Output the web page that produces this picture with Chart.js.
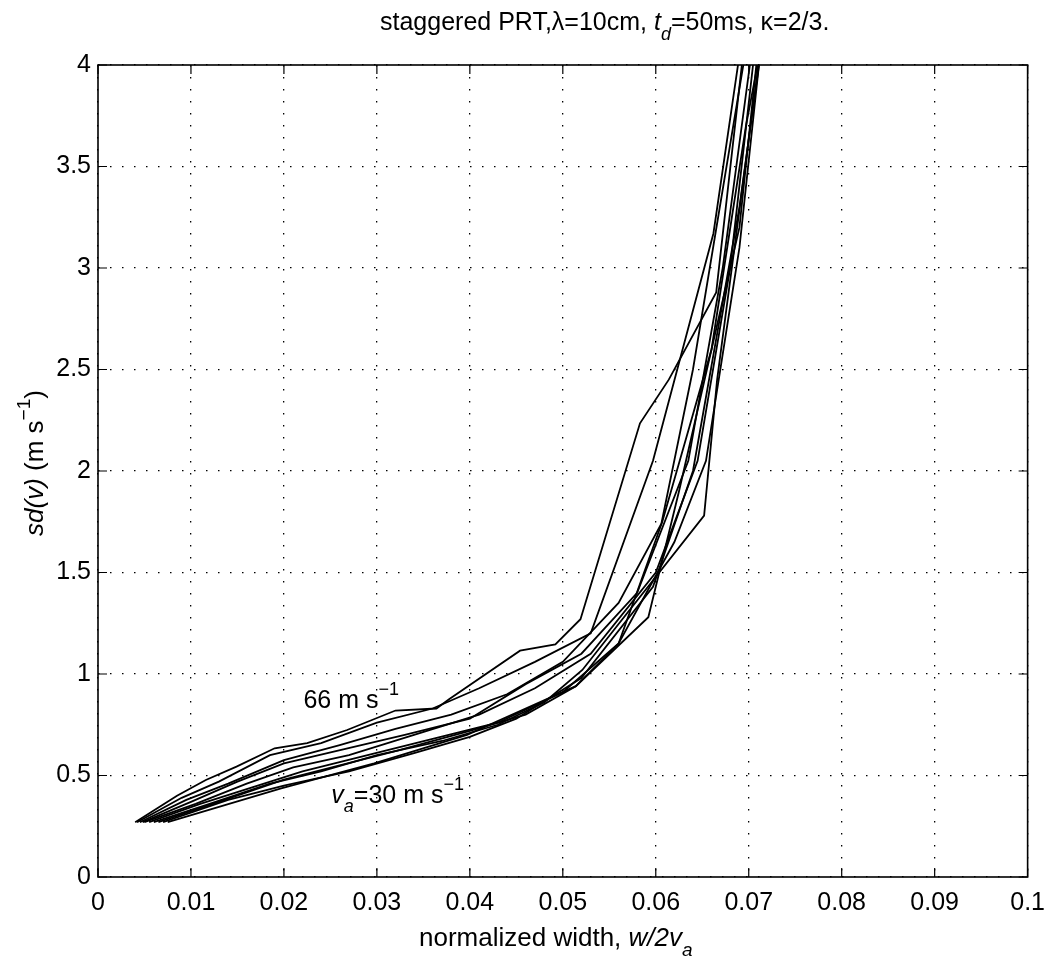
<!DOCTYPE html>
<html>
<head>
<meta charset="utf-8">
<script src="https://cdn.jsdelivr.net/npm/chart.js@4.4.1/dist/chart.umd.min.js"></script>
<style>
html, body { margin: 0; padding: 0; background: #fff; }
#wrap { width: 1056px; height: 962px; }
</style>
</head>
<body>
<div id="wrap"><canvas id="myChart"></canvas></div>
<script>
// sd(v) against normalized width, one curve per unambiguous velocity v_a (m/s)
const w66  = [0.0040, 0.0085, 0.0116, 0.0149, 0.0190, 0.0225, 0.0268, 0.0320, 0.0364, 0.0378, 0.0454, 0.0492, 0.0519, 0.0583, 0.0614, 0.0665, 0.0700];
const sd66 = [0.27, 0.40, 0.478, 0.544, 0.634, 0.66, 0.724, 0.82, 0.83, 0.877, 1.115, 1.146, 1.27, 2.235, 2.45, 2.88, 4.3];

const w62  = [0.0042, 0.0090, 0.0130, 0.0185, 0.0240, 0.0300, 0.0360, 0.0410, 0.0470, 0.0530, 0.0597, 0.0662, 0.0698];
const sd62 = [0.27, 0.39, 0.47, 0.60, 0.66, 0.76, 0.83, 0.93, 1.06, 1.20, 2.05, 3.17, 4.3];

const w58  = [0.0045, 0.0095, 0.0140, 0.0200, 0.0260, 0.0320, 0.0380, 0.0440, 0.0500, 0.0560, 0.0606, 0.0640, 0.0705];
const sd58 = [0.27, 0.38, 0.46, 0.576, 0.65, 0.73, 0.80, 0.90, 1.06, 1.35, 1.74, 2.5, 4.3];

const w54  = [0.0048, 0.0100, 0.0150, 0.0200, 0.0265, 0.0330, 0.0400, 0.0460, 0.0520, 0.0580, 0.0635, 0.0672, 0.0710];
const sd54 = [0.27, 0.37, 0.47, 0.56, 0.63, 0.70, 0.78, 0.95, 1.10, 1.40, 2.05, 3.0, 4.3];

const w50  = [0.0050, 0.0105, 0.0160, 0.0210, 0.0270, 0.0340, 0.0410, 0.0470, 0.0530, 0.0600, 0.0645, 0.0680, 0.0712];
const sd50 = [0.27, 0.36, 0.46, 0.54, 0.60, 0.70, 0.80, 0.93, 1.10, 1.50, 2.05, 3.0, 4.3];

const w46  = [0.0055, 0.0110, 0.0165, 0.0220, 0.0290, 0.0360, 0.0430, 0.0500, 0.0560, 0.0620, 0.0654, 0.0690, 0.0718];
const sd46 = [0.27, 0.36, 0.44, 0.52, 0.60, 0.68, 0.76, 0.91, 1.15, 1.65, 2.05, 3.1, 4.3];

const w42  = [0.0060, 0.0120, 0.0185, 0.0240, 0.0300, 0.0370, 0.0430, 0.0480, 0.0521, 0.0652, 0.0666, 0.0722];
const sd42 = [0.27, 0.36, 0.46, 0.52, 0.60, 0.67, 0.75, 0.86, 1.02, 1.78, 2.45, 4.4];

const w38  = [0.0065, 0.0130, 0.0200, 0.0260, 0.0320, 0.0400, 0.0460, 0.0514, 0.0560, 0.0607, 0.0660, 0.0697, 0.0722];
const sd38 = [0.27, 0.37, 0.48, 0.55, 0.62, 0.72, 0.80, 0.94, 1.15, 1.75, 2.6, 3.7, 4.3];

const w34  = [0.0070, 0.0140, 0.0200, 0.0270, 0.0340, 0.0400, 0.0450, 0.0520, 0.0597, 0.0640, 0.0690, 0.0720];
const sd34 = [0.27, 0.38, 0.45, 0.52, 0.61, 0.69, 0.78, 0.98, 1.43, 2.0, 3.3, 4.3];

const w30  = [0.0075, 0.0197, 0.0297, 0.0397, 0.0514, 0.0592, 0.0625, 0.0660, 0.0690, 0.0715];
const sd30 = [0.27, 0.437, 0.56, 0.70, 0.94, 1.28, 1.9, 2.6, 3.2, 4.3];

const curves = [
  [66, w66, sd66], [62, w62, sd62], [58, w58, sd58], [54, w54, sd54], [50, w50, sd50],
  [46, w46, sd46], [42, w42, sd42], [38, w38, sd38], [34, w34, sd34], [30, w30, sd30]
];

const FONT = "'Liberation Sans', Arial, Helvetica, sans-serif";

// draw a line of text made of pieces (italic / subscript / superscript)
function drawRuns(ctx, parts, x, y, size, align) {
  let total = 0;
  const items = parts.map(p => {
    const s = (p.sub || p.sup) ? Math.round(size * 0.72) : size;
    const f = (p.it ? 'italic ' : '') + s + 'px ' + FONT;
    ctx.font = f;
    const w = ctx.measureText(p.t).width;
    total += w;
    return { t: p.t, f: f, w: w, dy: p.sub ? size * 0.38 : (p.sup ? -size * 0.5 : 0) };
  });
  let cx = align === 'center' ? x - total / 2 : x;
  ctx.textAlign = 'left';
  ctx.textBaseline = 'alphabetic';
  for (const it of items) {
    ctx.font = it.f;
    ctx.fillText(it.t, cx, y + it.dy);
    cx += it.w;
  }
}

const frame = {
  id: 'frame',
  afterDraw(chart) {
    const ctx = chart.ctx;
    const a = chart.chartArea;
    const xs = chart.scales.x, ys = chart.scales.y;
    ctx.save();
    ctx.strokeStyle = '#000';
    ctx.fillStyle = '#000';
    ctx.lineWidth = 1.6;
    ctx.strokeRect(a.left, a.top, a.right - a.left, a.bottom - a.top);
    // inward tick marks
    ctx.lineWidth = 1.2;
    ctx.beginPath();
    xs.ticks.forEach(t => {
      const px = xs.getPixelForValue(t.value);
      ctx.moveTo(px, a.bottom); ctx.lineTo(px, a.bottom - 9);
      ctx.moveTo(px, a.top); ctx.lineTo(px, a.top + 9);
    });
    ys.ticks.forEach(t => {
      const py = ys.getPixelForValue(t.value);
      ctx.moveTo(a.left, py); ctx.lineTo(a.left + 9, py);
      ctx.moveTo(a.right, py); ctx.lineTo(a.right - 9, py);
    });
    ctx.stroke();

    // title
    drawRuns(ctx, [
      { t: 'staggered PRT,\u03bb=10cm, ' },
      { t: 't', it: 1 }, { t: 'd', it: 1, sub: 1 },
      { t: '=50ms, \u03ba=2/3.' }
    ], 380, 30, 25, 'left');

    // x axis title
    drawRuns(ctx, [
      { t: 'normalized width, ' },
      { t: 'w/2v', it: 1 }, { t: 'a', it: 1, sub: 1 }
    ], 419, 946, 26, 'left');

    // y axis title
    ctx.save();
    ctx.translate(43, (a.top + a.bottom) / 2 - 8);
    ctx.rotate(-Math.PI / 2);
    drawRuns(ctx, [
      { t: 'sd(v)', it: 1 },
      { t: ' (m s' }, { t: '\u22121', sup: 1 }, { t: ')' }
    ], 0, 0, 26, 'center');
    ctx.restore();

    // curve labels
    drawRuns(ctx, [{ t: '66 m s' }, { t: '\u22121', sup: 1 }],
      xs.getPixelForValue(0.0221), ys.getPixelForValue(0.833), 25, 'left');
    drawRuns(ctx, [{ t: 'v', it: 1 }, { t: 'a', it: 1, sub: 1 }, { t: '=30 m s' }, { t: '\u22121', sup: 1 }],
      xs.getPixelForValue(0.0251), ys.getPixelForValue(0.365), 25, 'left');
    ctx.restore();
  }
};

const ctx = document.getElementById('myChart');

new Chart(ctx, {
  type: 'scatter',
  data: {
    datasets: curves.map(c => ({
      label: 'v_a=' + c[0],
      data: c[1].map((x, i) => ({ x: x, y: c[2][i] })),
      showLine: true,
      borderColor: '#000',
      borderWidth: 1.8,
      pointRadius: 0,
      tension: 0,
      clip: 0
    }))
  },
  options: {
    responsive: true,
    maintainAspectRatio: false,
    animation: false,
    layout: { padding: { top: 65, right: 22, left: 0, bottom: 0 } },
    plugins: {
      legend: { display: false },
      tooltip: { enabled: false },
      title: { display: false }
    },
    scales: {
      x: {
        type: 'linear',
        min: 0, max: 0.1,
        afterFit(scale) { scale.height = 85; },
        ticks: {
          stepSize: 0.01,
          color: '#000',
          padding: 11,
          maxRotation: 0,
          font: { family: FONT, size: 25 },
          callback: v => String(+v.toFixed(2))
        },
        grid: { color: '#000', lineWidth: 1.3, drawTicks: false },
        border: { display: false, dash: [1.5, 10.5] }
      },
      y: {
        min: 0, max: 4,
        afterFit(scale) { scale.width = 98; },
        ticks: {
          stepSize: 0.5,
          color: '#000',
          padding: 7,
          font: { family: FONT, size: 25 },
          callback: v => String(+v.toFixed(1))
        },
        grid: { color: '#000', lineWidth: 1.3, drawTicks: false },
        border: { display: false, dash: [1.5, 10.5] }
      }
    }
  },
  plugins: [frame]
});
</script>
</body>
</html>
